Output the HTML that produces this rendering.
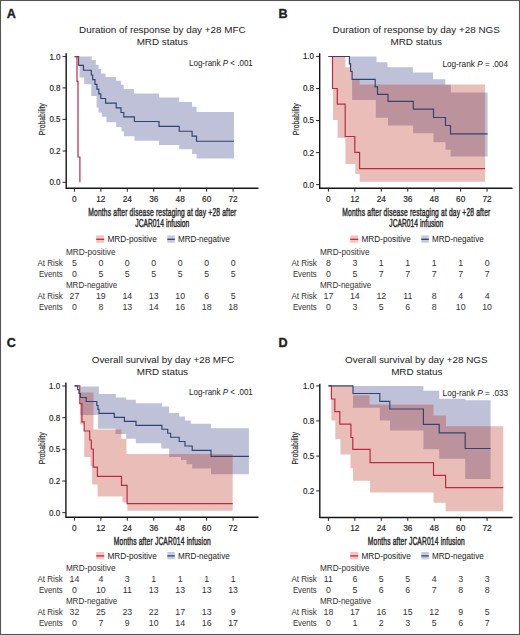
<!DOCTYPE html><html><head><meta charset="utf-8"><style>html,body{margin:0;padding:0;background:#fff;width:520px;height:635px;overflow:hidden}</style></head><body><svg width="520" height="635" viewBox="0 0 520 635" style="display:block;font-family:'Liberation Sans', sans-serif">
<rect x="0" y="0" width="520" height="635" fill="#fff"/>
<text x="6.8" y="18" font-size="12.6" font-weight="bold" fill="#222" stroke="#222" stroke-width="0.35">A</text>
<text x="162.3" y="32.7" font-size="9.9" text-anchor="middle" textLength="166.5" lengthAdjust="spacing" fill="#222">Duration of response by day +28 MFC</text>
<text x="162.3" y="45.1" font-size="9.9" text-anchor="middle" textLength="51.3" lengthAdjust="spacing" fill="#222">MRD status</text>
<path d="M79.5 56.6H91.7V60.1H95.8V64.7H98.6V69H101.2V73.4H105.6V77H116.1V80.8H121V84.8H123.8V89H133.9V93.4H159V97.4H179.2V102H192.1V106.8H196.6V112H234V158.4H196.6V154H192.1V149.2H179.2V144.9H159V140.7H134.5V136.3H123.8V131.5H121.5V127H116.2V122.2H106.5V116.7H101.8V112.4H98.5V107.5H96.6V96H91.3V84.2H84.2V77.5H79.5V56.6Z" fill="rgb(190,193,215)"/>
<path d="M74.6 56.6H78.7V65.4H83.5V70.2H91.3V75H92.7V79.6H95V84.4H96.9V89.1H98.8V93.8H100.8V98.5H105.6V103.1H116.2V107.8H121V112.5H123.8V116.8H134.4V121.5H159V126.3H179.2V131.2H192.1V136.1H196.5V141.2H234" fill="none" stroke="#30446f" stroke-width="1.15"/>
<path d="M74.8 56.6H77V81.4H78V157H79.9V182.3H79.9" fill="none" stroke="#bf2843" stroke-width="1.2"/>
<path d="M66.2 53.2V188.3H258.5" fill="none" stroke="#151515" stroke-width="1.4"/>
<path d="M62.6 56.6H66.2" stroke="#222" stroke-width="1"/>
<text x="60.6" y="59.55" font-size="8.3" text-anchor="end" textLength="11.2" lengthAdjust="spacingAndGlyphs" fill="#222" stroke="#222" stroke-width="0.15">1.0</text>
<path d="M62.6 87.9H66.2" stroke="#222" stroke-width="1"/>
<text x="60.6" y="90.85" font-size="8.3" text-anchor="end" textLength="11.2" lengthAdjust="spacingAndGlyphs" fill="#222" stroke="#222" stroke-width="0.15">0.8</text>
<path d="M62.6 119.4H66.2" stroke="#222" stroke-width="1"/>
<text x="60.6" y="122.35" font-size="8.3" text-anchor="end" textLength="11.2" lengthAdjust="spacingAndGlyphs" fill="#222" stroke="#222" stroke-width="0.15">0.5</text>
<path d="M62.6 151H66.2" stroke="#222" stroke-width="1"/>
<text x="60.6" y="153.95" font-size="8.3" text-anchor="end" textLength="11.2" lengthAdjust="spacingAndGlyphs" fill="#222" stroke="#222" stroke-width="0.15">0.2</text>
<path d="M62.6 182.3H66.2" stroke="#222" stroke-width="1"/>
<text x="60.6" y="185.25" font-size="8.3" text-anchor="end" textLength="11.2" lengthAdjust="spacingAndGlyphs" fill="#222" stroke="#222" stroke-width="0.15">0.0</text>
<path d="M74.4 188.3V191.7" stroke="#222" stroke-width="1"/>
<text x="74.4" y="202.4" font-size="8.3" text-anchor="middle" fill="#222" stroke="#222" stroke-width="0.15">0</text>
<path d="M100.85 188.3V191.7" stroke="#222" stroke-width="1"/>
<text x="100.85" y="202.4" font-size="8.3" text-anchor="middle" fill="#222" stroke="#222" stroke-width="0.15">12</text>
<path d="M127.3 188.3V191.7" stroke="#222" stroke-width="1"/>
<text x="127.3" y="202.4" font-size="8.3" text-anchor="middle" fill="#222" stroke="#222" stroke-width="0.15">24</text>
<path d="M153.75 188.3V191.7" stroke="#222" stroke-width="1"/>
<text x="153.75" y="202.4" font-size="8.3" text-anchor="middle" fill="#222" stroke="#222" stroke-width="0.15">36</text>
<path d="M180.2 188.3V191.7" stroke="#222" stroke-width="1"/>
<text x="180.2" y="202.4" font-size="8.3" text-anchor="middle" fill="#222" stroke="#222" stroke-width="0.15">48</text>
<path d="M206.65 188.3V191.7" stroke="#222" stroke-width="1"/>
<text x="206.65" y="202.4" font-size="8.3" text-anchor="middle" fill="#222" stroke="#222" stroke-width="0.15">60</text>
<path d="M233.1 188.3V191.7" stroke="#222" stroke-width="1"/>
<text x="233.1" y="202.4" font-size="8.3" text-anchor="middle" fill="#222" stroke="#222" stroke-width="0.15">72</text>
<text x="45.2" y="119.2" font-size="9.6" text-anchor="middle" textLength="32" lengthAdjust="spacingAndGlyphs" fill="#2a2a2a" transform="rotate(-90 45.2 119.2)" stroke="#2a2a2a" stroke-width="0.2">Probability</text>
<text x="189" y="66.3" font-size="9.2" textLength="63.8" lengthAdjust="spacingAndGlyphs" fill="#222">Log-rank <tspan font-style="italic">P</tspan> &lt; .001</text>
<text x="261.77" y="216" font-size="10.8" text-anchor="middle" textLength="238.71" lengthAdjust="spacing" fill="#2a2a2a" stroke="#2a2a2a" stroke-width="0.45" transform="scale(0.62,1)">Months after disease restaging at day +28 after</text>
<text x="261.77" y="226.6" font-size="10.8" text-anchor="middle" textLength="87.1" lengthAdjust="spacing" fill="#2a2a2a" stroke="#2a2a2a" stroke-width="0.45" transform="scale(0.62,1)">JCAR014 infusion</text>
<rect x="96.2" y="235.4" width="8" height="7.3" fill="#f4c4bd"/>
<path d="M96.2 239.3H104.2" stroke="#bf2843" stroke-width="1.3"/>
<text x="107.4" y="241.9" font-size="8.5" textLength="49.4" lengthAdjust="spacingAndGlyphs" fill="#222">MRD-positive</text>
<rect x="167.3" y="235.4" width="7.5" height="7.3" fill="#c6c8e2"/>
<path d="M167.3 239.3H174.8" stroke="#30446f" stroke-width="1.3"/>
<text x="178" y="241.9" font-size="8.5" textLength="51.7" lengthAdjust="spacingAndGlyphs" fill="#222">MRD-negative</text>
<text x="65.9" y="254.7" font-size="8.8" textLength="49.6" lengthAdjust="spacingAndGlyphs" fill="#333">MRD-positive</text>
<text x="62.8" y="265.6" font-size="8.8" text-anchor="end" textLength="25.4" lengthAdjust="spacingAndGlyphs" fill="#333">At Risk</text>
<text x="62.8" y="276.5" font-size="8.8" text-anchor="end" textLength="23.9" lengthAdjust="spacingAndGlyphs" fill="#333">Events</text>
<text x="65.9" y="287.5" font-size="8.8" textLength="51.4" lengthAdjust="spacingAndGlyphs" fill="#333">MRD-negative</text>
<text x="62.8" y="298.5" font-size="8.8" text-anchor="end" textLength="25.4" lengthAdjust="spacingAndGlyphs" fill="#333">At Risk</text>
<text x="62.8" y="309.5" font-size="8.8" text-anchor="end" textLength="23.9" lengthAdjust="spacingAndGlyphs" fill="#333">Events</text>
<text x="74.4" y="265.6" font-size="8.8" text-anchor="middle" fill="#333">5</text>
<text x="100.85" y="265.6" font-size="8.8" text-anchor="middle" fill="#333">0</text>
<text x="127.3" y="265.6" font-size="8.8" text-anchor="middle" fill="#333">0</text>
<text x="153.75" y="265.6" font-size="8.8" text-anchor="middle" fill="#333">0</text>
<text x="180.2" y="265.6" font-size="8.8" text-anchor="middle" fill="#333">0</text>
<text x="206.65" y="265.6" font-size="8.8" text-anchor="middle" fill="#333">0</text>
<text x="233.1" y="265.6" font-size="8.8" text-anchor="middle" fill="#333">0</text>
<text x="74.4" y="276.5" font-size="8.8" text-anchor="middle" fill="#333">0</text>
<text x="100.85" y="276.5" font-size="8.8" text-anchor="middle" fill="#333">5</text>
<text x="127.3" y="276.5" font-size="8.8" text-anchor="middle" fill="#333">5</text>
<text x="153.75" y="276.5" font-size="8.8" text-anchor="middle" fill="#333">5</text>
<text x="180.2" y="276.5" font-size="8.8" text-anchor="middle" fill="#333">5</text>
<text x="206.65" y="276.5" font-size="8.8" text-anchor="middle" fill="#333">5</text>
<text x="233.1" y="276.5" font-size="8.8" text-anchor="middle" fill="#333">5</text>
<text x="74.4" y="298.5" font-size="8.8" text-anchor="middle" fill="#333">27</text>
<text x="100.85" y="298.5" font-size="8.8" text-anchor="middle" fill="#333">19</text>
<text x="127.3" y="298.5" font-size="8.8" text-anchor="middle" fill="#333">14</text>
<text x="153.75" y="298.5" font-size="8.8" text-anchor="middle" fill="#333">13</text>
<text x="180.2" y="298.5" font-size="8.8" text-anchor="middle" fill="#333">10</text>
<text x="206.65" y="298.5" font-size="8.8" text-anchor="middle" fill="#333">6</text>
<text x="233.1" y="298.5" font-size="8.8" text-anchor="middle" fill="#333">5</text>
<text x="74.4" y="309.5" font-size="8.8" text-anchor="middle" fill="#333">0</text>
<text x="100.85" y="309.5" font-size="8.8" text-anchor="middle" fill="#333">8</text>
<text x="127.3" y="309.5" font-size="8.8" text-anchor="middle" fill="#333">13</text>
<text x="153.75" y="309.5" font-size="8.8" text-anchor="middle" fill="#333">14</text>
<text x="180.2" y="309.5" font-size="8.8" text-anchor="middle" fill="#333">16</text>
<text x="206.65" y="309.5" font-size="8.8" text-anchor="middle" fill="#333">18</text>
<text x="233.1" y="309.5" font-size="8.8" text-anchor="middle" fill="#333">18</text>
<text x="278.4" y="17.8" font-size="12.6" font-weight="bold" fill="#222" stroke="#222" stroke-width="0.35">B</text>
<text x="416.2" y="32.7" font-size="9.9" text-anchor="middle" textLength="167.4" lengthAdjust="spacing" fill="#222">Duration of response by day +28 NGS</text>
<text x="416.2" y="45.1" font-size="9.9" text-anchor="middle" textLength="51.3" lengthAdjust="spacing" fill="#222">MRD status</text>
<path d="M349.5 56.6H376.5V62.3H387.5V67.2H412.9V72.5H433.1V79.3H445.3V84.8H450.8V92.5H487.6V156.6H450.6V149.8H445.5V142.2H433.5V133.3H413.2V125.4H388V117.7H375.8V100.1H352.1V67.3H349.5V56.6Z" fill="rgb(190,193,215)"/>
<path d="M333 56.8H345.4V67.2H352.1V79.4H359.6V84.6H485V181.8H359.7V174H355.3V164.1H345.4V137.7H337.6V120H333V56.8Z" fill="rgba(185,40,20,0.3)"/>
<path d="M328.5 56.5H332.5V88.5H337.3V104.2H345.2V136.5H354.8V152.3H359.6V168.6H485" fill="none" stroke="#bf2843" stroke-width="1.2"/>
<path d="M328.5 56.5H349.4V63.8H350.6V71.4H352.1V79.3H375.2V86.9H377.5V94.3H388V101.4H413.3V109.1H433.5V117.5H445.5V125.5H450.5V133.8H487.6" fill="none" stroke="#30446f" stroke-width="1.15"/>
<path d="M319.7 53.3V188.2H512.5" fill="none" stroke="#151515" stroke-width="1.4"/>
<path d="M316.1 56.4H319.7" stroke="#222" stroke-width="1"/>
<text x="314.1" y="59.35" font-size="8.3" text-anchor="end" textLength="11.2" lengthAdjust="spacingAndGlyphs" fill="#222" stroke="#222" stroke-width="0.15">1.0</text>
<path d="M316.1 88.5H319.7" stroke="#222" stroke-width="1"/>
<text x="314.1" y="91.45" font-size="8.3" text-anchor="end" textLength="11.2" lengthAdjust="spacingAndGlyphs" fill="#222" stroke="#222" stroke-width="0.15">0.8</text>
<path d="M316.1 120.5H319.7" stroke="#222" stroke-width="1"/>
<text x="314.1" y="123.45" font-size="8.3" text-anchor="end" textLength="11.2" lengthAdjust="spacingAndGlyphs" fill="#222" stroke="#222" stroke-width="0.15">0.5</text>
<path d="M316.1 152.6H319.7" stroke="#222" stroke-width="1"/>
<text x="314.1" y="155.55" font-size="8.3" text-anchor="end" textLength="11.2" lengthAdjust="spacingAndGlyphs" fill="#222" stroke="#222" stroke-width="0.15">0.2</text>
<path d="M316.1 184.6H319.7" stroke="#222" stroke-width="1"/>
<text x="314.1" y="187.55" font-size="8.3" text-anchor="end" textLength="11.2" lengthAdjust="spacingAndGlyphs" fill="#222" stroke="#222" stroke-width="0.15">0.0</text>
<path d="M328.4 188.2V191.6" stroke="#222" stroke-width="1"/>
<text x="328.4" y="202.4" font-size="8.3" text-anchor="middle" fill="#222" stroke="#222" stroke-width="0.15">0</text>
<path d="M354.85 188.2V191.6" stroke="#222" stroke-width="1"/>
<text x="354.85" y="202.4" font-size="8.3" text-anchor="middle" fill="#222" stroke="#222" stroke-width="0.15">12</text>
<path d="M381.3 188.2V191.6" stroke="#222" stroke-width="1"/>
<text x="381.3" y="202.4" font-size="8.3" text-anchor="middle" fill="#222" stroke="#222" stroke-width="0.15">24</text>
<path d="M407.75 188.2V191.6" stroke="#222" stroke-width="1"/>
<text x="407.75" y="202.4" font-size="8.3" text-anchor="middle" fill="#222" stroke="#222" stroke-width="0.15">36</text>
<path d="M434.2 188.2V191.6" stroke="#222" stroke-width="1"/>
<text x="434.2" y="202.4" font-size="8.3" text-anchor="middle" fill="#222" stroke="#222" stroke-width="0.15">48</text>
<path d="M460.65 188.2V191.6" stroke="#222" stroke-width="1"/>
<text x="460.65" y="202.4" font-size="8.3" text-anchor="middle" fill="#222" stroke="#222" stroke-width="0.15">60</text>
<path d="M487.1 188.2V191.6" stroke="#222" stroke-width="1"/>
<text x="487.1" y="202.4" font-size="8.3" text-anchor="middle" fill="#222" stroke="#222" stroke-width="0.15">72</text>
<text x="299.2" y="119.2" font-size="9.6" text-anchor="middle" textLength="32" lengthAdjust="spacingAndGlyphs" fill="#2a2a2a" transform="rotate(-90 299.2 119.2)" stroke="#2a2a2a" stroke-width="0.2">Probability</text>
<text x="442.4" y="66.6" font-size="9.2" textLength="65.6" lengthAdjust="spacingAndGlyphs" fill="#222">Log-rank <tspan font-style="italic">P</tspan> = .004</text>
<text x="671.45" y="216" font-size="10.8" text-anchor="middle" textLength="238.71" lengthAdjust="spacing" fill="#2a2a2a" stroke="#2a2a2a" stroke-width="0.45" transform="scale(0.62,1)">Months after disease restaging at day +28 after</text>
<text x="671.45" y="226.6" font-size="10.8" text-anchor="middle" textLength="87.1" lengthAdjust="spacing" fill="#2a2a2a" stroke="#2a2a2a" stroke-width="0.45" transform="scale(0.62,1)">JCAR014 infusion</text>
<rect x="350.2" y="235.4" width="8" height="7.3" fill="#f4c4bd"/>
<path d="M350.2 239.3H358.2" stroke="#bf2843" stroke-width="1.3"/>
<text x="361.4" y="241.9" font-size="8.5" textLength="49.4" lengthAdjust="spacingAndGlyphs" fill="#222">MRD-positive</text>
<rect x="421.3" y="235.4" width="7.5" height="7.3" fill="#c6c8e2"/>
<path d="M421.3 239.3H428.8" stroke="#30446f" stroke-width="1.3"/>
<text x="432" y="241.9" font-size="8.5" textLength="51.7" lengthAdjust="spacingAndGlyphs" fill="#222">MRD-negative</text>
<text x="319.9" y="254.7" font-size="8.8" textLength="49.6" lengthAdjust="spacingAndGlyphs" fill="#333">MRD-positive</text>
<text x="316.8" y="265.6" font-size="8.8" text-anchor="end" textLength="25.4" lengthAdjust="spacingAndGlyphs" fill="#333">At Risk</text>
<text x="316.8" y="276.5" font-size="8.8" text-anchor="end" textLength="23.9" lengthAdjust="spacingAndGlyphs" fill="#333">Events</text>
<text x="319.9" y="287.5" font-size="8.8" textLength="51.4" lengthAdjust="spacingAndGlyphs" fill="#333">MRD-negative</text>
<text x="316.8" y="298.5" font-size="8.8" text-anchor="end" textLength="25.4" lengthAdjust="spacingAndGlyphs" fill="#333">At Risk</text>
<text x="316.8" y="309.5" font-size="8.8" text-anchor="end" textLength="23.9" lengthAdjust="spacingAndGlyphs" fill="#333">Events</text>
<text x="328.4" y="265.6" font-size="8.8" text-anchor="middle" fill="#333">8</text>
<text x="354.85" y="265.6" font-size="8.8" text-anchor="middle" fill="#333">3</text>
<text x="381.3" y="265.6" font-size="8.8" text-anchor="middle" fill="#333">1</text>
<text x="407.75" y="265.6" font-size="8.8" text-anchor="middle" fill="#333">1</text>
<text x="434.2" y="265.6" font-size="8.8" text-anchor="middle" fill="#333">1</text>
<text x="460.65" y="265.6" font-size="8.8" text-anchor="middle" fill="#333">1</text>
<text x="487.1" y="265.6" font-size="8.8" text-anchor="middle" fill="#333">0</text>
<text x="328.4" y="276.5" font-size="8.8" text-anchor="middle" fill="#333">0</text>
<text x="354.85" y="276.5" font-size="8.8" text-anchor="middle" fill="#333">5</text>
<text x="381.3" y="276.5" font-size="8.8" text-anchor="middle" fill="#333">7</text>
<text x="407.75" y="276.5" font-size="8.8" text-anchor="middle" fill="#333">7</text>
<text x="434.2" y="276.5" font-size="8.8" text-anchor="middle" fill="#333">7</text>
<text x="460.65" y="276.5" font-size="8.8" text-anchor="middle" fill="#333">7</text>
<text x="487.1" y="276.5" font-size="8.8" text-anchor="middle" fill="#333">7</text>
<text x="328.4" y="298.5" font-size="8.8" text-anchor="middle" fill="#333">17</text>
<text x="354.85" y="298.5" font-size="8.8" text-anchor="middle" fill="#333">14</text>
<text x="381.3" y="298.5" font-size="8.8" text-anchor="middle" fill="#333">12</text>
<text x="407.75" y="298.5" font-size="8.8" text-anchor="middle" fill="#333">11</text>
<text x="434.2" y="298.5" font-size="8.8" text-anchor="middle" fill="#333">8</text>
<text x="460.65" y="298.5" font-size="8.8" text-anchor="middle" fill="#333">4</text>
<text x="487.1" y="298.5" font-size="8.8" text-anchor="middle" fill="#333">4</text>
<text x="328.4" y="309.5" font-size="8.8" text-anchor="middle" fill="#333">0</text>
<text x="354.85" y="309.5" font-size="8.8" text-anchor="middle" fill="#333">3</text>
<text x="381.3" y="309.5" font-size="8.8" text-anchor="middle" fill="#333">5</text>
<text x="407.75" y="309.5" font-size="8.8" text-anchor="middle" fill="#333">6</text>
<text x="434.2" y="309.5" font-size="8.8" text-anchor="middle" fill="#333">8</text>
<text x="460.65" y="309.5" font-size="8.8" text-anchor="middle" fill="#333">10</text>
<text x="487.1" y="309.5" font-size="8.8" text-anchor="middle" fill="#333">10</text>
<text x="6.8" y="347.2" font-size="12.6" font-weight="bold" fill="#222" stroke="#222" stroke-width="0.35">C</text>
<text x="163" y="362.8" font-size="9.9" text-anchor="middle" textLength="142.4" lengthAdjust="spacing" fill="#222">Overall survival by day +28 MFC</text>
<text x="162.4" y="374.8" font-size="9.9" text-anchor="middle" textLength="51.3" lengthAdjust="spacing" fill="#222">MRD status</text>
<path d="M80.4 386.5H98.8V394H115.8V397.5H126.2V399.8H135.8V403.2H161.9V406.5H169.1V412.9H179.2V416.6H185V420.4H190.8V423.8H211V428.2H248.9V474.3H211V468.6H192.2V464.2H186.5V459.9H181V457H169.1V448.5H161.3V443.3H135.8V438.8H126.2V434H115.5V428.8H98.1V414.9H80.4V386.5Z" fill="rgb(190,193,215)"/>
<path d="M80.5 392.6H93.5V429.6H121.4V438.8H126.5V454.1H232.7V510.8H127.3V502.6H122.6V496.5H97.6V484.5H92.1V466H90.5V457H84.2V424.4H80.2V392.6Z" fill="rgba(185,40,20,0.3)"/>
<path d="M74.6 385.8H79.8V403.7H81.9V421.9H84.2V431H89.7V440H91.3V449H93.3V467.2H97.4V476.4H121.5V485.3H127.1V503.7H232.7" fill="none" stroke="#bf2843" stroke-width="1.2"/>
<path d="M74.6 385.8H77.7V389.6H79V393.5H80.5V397.5H86.2V401.5H96.8V405.5H98V409.4H99V413.4H114.3V417.4H124.4V421.3H136V425.3H161.9V429.2H167.7V433.2H170.6V437.2H179.2V441.5H185V446H192.2V450.4H211V456.3H248.9" fill="none" stroke="#30446f" stroke-width="1.15"/>
<path d="M65.9 382.5V517.3H258.5" fill="none" stroke="#151515" stroke-width="1.4"/>
<path d="M62.3 386H65.9" stroke="#222" stroke-width="1"/>
<text x="60.3" y="388.95" font-size="8.3" text-anchor="end" textLength="11.2" lengthAdjust="spacingAndGlyphs" fill="#222" stroke="#222" stroke-width="0.15">1.0</text>
<path d="M62.3 417.7H65.9" stroke="#222" stroke-width="1"/>
<text x="60.3" y="420.65" font-size="8.3" text-anchor="end" textLength="11.2" lengthAdjust="spacingAndGlyphs" fill="#222" stroke="#222" stroke-width="0.15">0.8</text>
<path d="M62.3 449.3H65.9" stroke="#222" stroke-width="1"/>
<text x="60.3" y="452.25" font-size="8.3" text-anchor="end" textLength="11.2" lengthAdjust="spacingAndGlyphs" fill="#222" stroke="#222" stroke-width="0.15">0.5</text>
<path d="M62.3 481H65.9" stroke="#222" stroke-width="1"/>
<text x="60.3" y="483.95" font-size="8.3" text-anchor="end" textLength="11.2" lengthAdjust="spacingAndGlyphs" fill="#222" stroke="#222" stroke-width="0.15">0.2</text>
<path d="M62.3 512.7H65.9" stroke="#222" stroke-width="1"/>
<text x="60.3" y="515.65" font-size="8.3" text-anchor="end" textLength="11.2" lengthAdjust="spacingAndGlyphs" fill="#222" stroke="#222" stroke-width="0.15">0.0</text>
<path d="M74.4 517.3V520.7" stroke="#222" stroke-width="1"/>
<text x="74.4" y="531.2" font-size="8.3" text-anchor="middle" fill="#222" stroke="#222" stroke-width="0.15">0</text>
<path d="M100.85 517.3V520.7" stroke="#222" stroke-width="1"/>
<text x="100.85" y="531.2" font-size="8.3" text-anchor="middle" fill="#222" stroke="#222" stroke-width="0.15">12</text>
<path d="M127.3 517.3V520.7" stroke="#222" stroke-width="1"/>
<text x="127.3" y="531.2" font-size="8.3" text-anchor="middle" fill="#222" stroke="#222" stroke-width="0.15">24</text>
<path d="M153.75 517.3V520.7" stroke="#222" stroke-width="1"/>
<text x="153.75" y="531.2" font-size="8.3" text-anchor="middle" fill="#222" stroke="#222" stroke-width="0.15">36</text>
<path d="M180.2 517.3V520.7" stroke="#222" stroke-width="1"/>
<text x="180.2" y="531.2" font-size="8.3" text-anchor="middle" fill="#222" stroke="#222" stroke-width="0.15">48</text>
<path d="M206.65 517.3V520.7" stroke="#222" stroke-width="1"/>
<text x="206.65" y="531.2" font-size="8.3" text-anchor="middle" fill="#222" stroke="#222" stroke-width="0.15">60</text>
<path d="M233.1 517.3V520.7" stroke="#222" stroke-width="1"/>
<text x="233.1" y="531.2" font-size="8.3" text-anchor="middle" fill="#222" stroke="#222" stroke-width="0.15">72</text>
<text x="44.9" y="448.3" font-size="9.6" text-anchor="middle" textLength="32" lengthAdjust="spacingAndGlyphs" fill="#2a2a2a" transform="rotate(-90 44.9 448.3)" stroke="#2a2a2a" stroke-width="0.2">Probability</text>
<text x="189" y="395.3" font-size="9.2" textLength="63.8" lengthAdjust="spacingAndGlyphs" fill="#222">Log-rank <tspan font-style="italic">P</tspan> &lt; .001</text>
<text x="261.77" y="545.2" font-size="10.8" text-anchor="middle" textLength="156.45" lengthAdjust="spacing" fill="#2a2a2a" stroke="#2a2a2a" stroke-width="0.45" transform="scale(0.62,1)">Months after JCAR014 infusion</text>
<rect x="96.2" y="552" width="8" height="7.3" fill="#f4c4bd"/>
<path d="M96.2 555.9H104.2" stroke="#bf2843" stroke-width="1.3"/>
<text x="107.4" y="558.5" font-size="8.5" textLength="49.4" lengthAdjust="spacingAndGlyphs" fill="#222">MRD-positive</text>
<rect x="167.3" y="552" width="7.5" height="7.3" fill="#c6c8e2"/>
<path d="M167.3 555.9H174.8" stroke="#30446f" stroke-width="1.3"/>
<text x="178" y="558.5" font-size="8.5" textLength="51.7" lengthAdjust="spacingAndGlyphs" fill="#222">MRD-negative</text>
<text x="65.9" y="571.2" font-size="8.8" textLength="49.6" lengthAdjust="spacingAndGlyphs" fill="#333">MRD-positive</text>
<text x="62.8" y="582.1" font-size="8.8" text-anchor="end" textLength="25.4" lengthAdjust="spacingAndGlyphs" fill="#333">At Risk</text>
<text x="62.8" y="593" font-size="8.8" text-anchor="end" textLength="23.9" lengthAdjust="spacingAndGlyphs" fill="#333">Events</text>
<text x="65.9" y="604" font-size="8.8" textLength="51.4" lengthAdjust="spacingAndGlyphs" fill="#333">MRD-negative</text>
<text x="62.8" y="615" font-size="8.8" text-anchor="end" textLength="25.4" lengthAdjust="spacingAndGlyphs" fill="#333">At Risk</text>
<text x="62.8" y="626" font-size="8.8" text-anchor="end" textLength="23.9" lengthAdjust="spacingAndGlyphs" fill="#333">Events</text>
<text x="74.4" y="582.1" font-size="8.8" text-anchor="middle" fill="#333">14</text>
<text x="100.85" y="582.1" font-size="8.8" text-anchor="middle" fill="#333">4</text>
<text x="127.3" y="582.1" font-size="8.8" text-anchor="middle" fill="#333">3</text>
<text x="153.75" y="582.1" font-size="8.8" text-anchor="middle" fill="#333">1</text>
<text x="180.2" y="582.1" font-size="8.8" text-anchor="middle" fill="#333">1</text>
<text x="206.65" y="582.1" font-size="8.8" text-anchor="middle" fill="#333">1</text>
<text x="233.1" y="582.1" font-size="8.8" text-anchor="middle" fill="#333">1</text>
<text x="74.4" y="593" font-size="8.8" text-anchor="middle" fill="#333">0</text>
<text x="100.85" y="593" font-size="8.8" text-anchor="middle" fill="#333">10</text>
<text x="127.3" y="593" font-size="8.8" text-anchor="middle" fill="#333">11</text>
<text x="153.75" y="593" font-size="8.8" text-anchor="middle" fill="#333">13</text>
<text x="180.2" y="593" font-size="8.8" text-anchor="middle" fill="#333">13</text>
<text x="206.65" y="593" font-size="8.8" text-anchor="middle" fill="#333">13</text>
<text x="233.1" y="593" font-size="8.8" text-anchor="middle" fill="#333">13</text>
<text x="74.4" y="615" font-size="8.8" text-anchor="middle" fill="#333">32</text>
<text x="100.85" y="615" font-size="8.8" text-anchor="middle" fill="#333">25</text>
<text x="127.3" y="615" font-size="8.8" text-anchor="middle" fill="#333">23</text>
<text x="153.75" y="615" font-size="8.8" text-anchor="middle" fill="#333">22</text>
<text x="180.2" y="615" font-size="8.8" text-anchor="middle" fill="#333">17</text>
<text x="206.65" y="615" font-size="8.8" text-anchor="middle" fill="#333">13</text>
<text x="233.1" y="615" font-size="8.8" text-anchor="middle" fill="#333">9</text>
<text x="74.4" y="626" font-size="8.8" text-anchor="middle" fill="#333">0</text>
<text x="100.85" y="626" font-size="8.8" text-anchor="middle" fill="#333">7</text>
<text x="127.3" y="626" font-size="8.8" text-anchor="middle" fill="#333">9</text>
<text x="153.75" y="626" font-size="8.8" text-anchor="middle" fill="#333">10</text>
<text x="180.2" y="626" font-size="8.8" text-anchor="middle" fill="#333">14</text>
<text x="206.65" y="626" font-size="8.8" text-anchor="middle" fill="#333">16</text>
<text x="233.1" y="626" font-size="8.8" text-anchor="middle" fill="#333">17</text>
<text x="278.4" y="347.4" font-size="12.6" font-weight="bold" fill="#222" stroke="#222" stroke-width="0.35">D</text>
<text x="416.3" y="362.7" font-size="9.9" text-anchor="middle" textLength="142.5" lengthAdjust="spacing" fill="#222">Overall survival by day +28 NGS</text>
<text x="416.8" y="374.8" font-size="9.9" text-anchor="middle" textLength="51.3" lengthAdjust="spacing" fill="#222">MRD status</text>
<path d="M353 385.9H423.4V390.8H439.2V398.8H465.2V400.3H490.6V479H465.2V458.8H439.2V449.3H423.4V430.5H390V420.4H379.8V407.8H353V385.9Z" fill="rgb(190,193,215)"/>
<path d="M330.8 385.9H353V395.2H369.5V404.5H433.5V415.6H446V426.2H503.3V511.3H445.6V502.7H433.5V492.4H370.1V480.8H353V468.2H350.5V454.4H340.4V439.3H335.3V420.4H331.3V385.9Z" fill="rgba(185,40,20,0.3)"/>
<path d="M328.5 385.9H331.4V399H334.8V411.6H339.8V424.2H350.9V437.5H352.8V449.3H370.1V462.7H433.5V475.3H445.6V487.7H503.3" fill="none" stroke="#bf2843" stroke-width="1.2"/>
<path d="M328.5 385.9H353V393.5H379.8V401.3H389.8V409H423.4V424.3H439.2V432.9H465.2V448.5H490.6" fill="none" stroke="#30446f" stroke-width="1.15"/>
<path d="M319.8 383.8V517.5H512.5" fill="none" stroke="#151515" stroke-width="1.4"/>
<path d="M316.2 385.9H319.8" stroke="#222" stroke-width="1"/>
<text x="314.2" y="388.85" font-size="8.3" text-anchor="end" textLength="11.2" lengthAdjust="spacingAndGlyphs" fill="#222" stroke="#222" stroke-width="0.15">1.0</text>
<path d="M316.2 420.9H319.8" stroke="#222" stroke-width="1"/>
<text x="314.2" y="423.85" font-size="8.3" text-anchor="end" textLength="11.2" lengthAdjust="spacingAndGlyphs" fill="#222" stroke="#222" stroke-width="0.15">0.8</text>
<path d="M316.2 456.1H319.8" stroke="#222" stroke-width="1"/>
<text x="314.2" y="459.05" font-size="8.3" text-anchor="end" textLength="11.2" lengthAdjust="spacingAndGlyphs" fill="#222" stroke="#222" stroke-width="0.15">0.5</text>
<path d="M316.2 490.9H319.8" stroke="#222" stroke-width="1"/>
<text x="314.2" y="493.85" font-size="8.3" text-anchor="end" textLength="11.2" lengthAdjust="spacingAndGlyphs" fill="#222" stroke="#222" stroke-width="0.15">0.2</text>
<path d="M328.4 517.5V520.9" stroke="#222" stroke-width="1"/>
<text x="328.4" y="531.2" font-size="8.3" text-anchor="middle" fill="#222" stroke="#222" stroke-width="0.15">0</text>
<path d="M354.85 517.5V520.9" stroke="#222" stroke-width="1"/>
<text x="354.85" y="531.2" font-size="8.3" text-anchor="middle" fill="#222" stroke="#222" stroke-width="0.15">12</text>
<path d="M381.3 517.5V520.9" stroke="#222" stroke-width="1"/>
<text x="381.3" y="531.2" font-size="8.3" text-anchor="middle" fill="#222" stroke="#222" stroke-width="0.15">24</text>
<path d="M407.75 517.5V520.9" stroke="#222" stroke-width="1"/>
<text x="407.75" y="531.2" font-size="8.3" text-anchor="middle" fill="#222" stroke="#222" stroke-width="0.15">36</text>
<path d="M434.2 517.5V520.9" stroke="#222" stroke-width="1"/>
<text x="434.2" y="531.2" font-size="8.3" text-anchor="middle" fill="#222" stroke="#222" stroke-width="0.15">48</text>
<path d="M460.65 517.5V520.9" stroke="#222" stroke-width="1"/>
<text x="460.65" y="531.2" font-size="8.3" text-anchor="middle" fill="#222" stroke="#222" stroke-width="0.15">60</text>
<path d="M487.1 517.5V520.9" stroke="#222" stroke-width="1"/>
<text x="487.1" y="531.2" font-size="8.3" text-anchor="middle" fill="#222" stroke="#222" stroke-width="0.15">72</text>
<text x="298.5" y="448.3" font-size="9.6" text-anchor="middle" textLength="32.5" lengthAdjust="spacingAndGlyphs" fill="#2a2a2a" transform="rotate(-90 298.5 448.3)" stroke="#2a2a2a" stroke-width="0.2">Probability</text>
<text x="442.6" y="395.5" font-size="9.2" textLength="65.6" lengthAdjust="spacingAndGlyphs" fill="#222">Log-rank <tspan font-style="italic">P</tspan> = .033</text>
<text x="671.45" y="545.2" font-size="10.8" text-anchor="middle" textLength="156.45" lengthAdjust="spacing" fill="#2a2a2a" stroke="#2a2a2a" stroke-width="0.45" transform="scale(0.62,1)">Months after JCAR014 infusion</text>
<rect x="350.2" y="552" width="8" height="7.3" fill="#f4c4bd"/>
<path d="M350.2 555.9H358.2" stroke="#bf2843" stroke-width="1.3"/>
<text x="361.4" y="558.5" font-size="8.5" textLength="49.4" lengthAdjust="spacingAndGlyphs" fill="#222">MRD-positive</text>
<rect x="421.3" y="552" width="7.5" height="7.3" fill="#c6c8e2"/>
<path d="M421.3 555.9H428.8" stroke="#30446f" stroke-width="1.3"/>
<text x="432" y="558.5" font-size="8.5" textLength="51.7" lengthAdjust="spacingAndGlyphs" fill="#222">MRD-negative</text>
<text x="319.9" y="571.2" font-size="8.8" textLength="49.6" lengthAdjust="spacingAndGlyphs" fill="#333">MRD-positive</text>
<text x="316.8" y="582.1" font-size="8.8" text-anchor="end" textLength="25.4" lengthAdjust="spacingAndGlyphs" fill="#333">At Risk</text>
<text x="316.8" y="593" font-size="8.8" text-anchor="end" textLength="23.9" lengthAdjust="spacingAndGlyphs" fill="#333">Events</text>
<text x="319.9" y="604" font-size="8.8" textLength="51.4" lengthAdjust="spacingAndGlyphs" fill="#333">MRD-negative</text>
<text x="316.8" y="615" font-size="8.8" text-anchor="end" textLength="25.4" lengthAdjust="spacingAndGlyphs" fill="#333">At Risk</text>
<text x="316.8" y="626" font-size="8.8" text-anchor="end" textLength="23.9" lengthAdjust="spacingAndGlyphs" fill="#333">Events</text>
<text x="328.4" y="582.1" font-size="8.8" text-anchor="middle" fill="#333">11</text>
<text x="354.85" y="582.1" font-size="8.8" text-anchor="middle" fill="#333">6</text>
<text x="381.3" y="582.1" font-size="8.8" text-anchor="middle" fill="#333">5</text>
<text x="407.75" y="582.1" font-size="8.8" text-anchor="middle" fill="#333">5</text>
<text x="434.2" y="582.1" font-size="8.8" text-anchor="middle" fill="#333">4</text>
<text x="460.65" y="582.1" font-size="8.8" text-anchor="middle" fill="#333">3</text>
<text x="487.1" y="582.1" font-size="8.8" text-anchor="middle" fill="#333">3</text>
<text x="328.4" y="593" font-size="8.8" text-anchor="middle" fill="#333">0</text>
<text x="354.85" y="593" font-size="8.8" text-anchor="middle" fill="#333">5</text>
<text x="381.3" y="593" font-size="8.8" text-anchor="middle" fill="#333">6</text>
<text x="407.75" y="593" font-size="8.8" text-anchor="middle" fill="#333">6</text>
<text x="434.2" y="593" font-size="8.8" text-anchor="middle" fill="#333">7</text>
<text x="460.65" y="593" font-size="8.8" text-anchor="middle" fill="#333">8</text>
<text x="487.1" y="593" font-size="8.8" text-anchor="middle" fill="#333">8</text>
<text x="328.4" y="615" font-size="8.8" text-anchor="middle" fill="#333">18</text>
<text x="354.85" y="615" font-size="8.8" text-anchor="middle" fill="#333">17</text>
<text x="381.3" y="615" font-size="8.8" text-anchor="middle" fill="#333">16</text>
<text x="407.75" y="615" font-size="8.8" text-anchor="middle" fill="#333">15</text>
<text x="434.2" y="615" font-size="8.8" text-anchor="middle" fill="#333">12</text>
<text x="460.65" y="615" font-size="8.8" text-anchor="middle" fill="#333">9</text>
<text x="487.1" y="615" font-size="8.8" text-anchor="middle" fill="#333">5</text>
<text x="328.4" y="626" font-size="8.8" text-anchor="middle" fill="#333">0</text>
<text x="354.85" y="626" font-size="8.8" text-anchor="middle" fill="#333">1</text>
<text x="381.3" y="626" font-size="8.8" text-anchor="middle" fill="#333">2</text>
<text x="407.75" y="626" font-size="8.8" text-anchor="middle" fill="#333">3</text>
<text x="434.2" y="626" font-size="8.8" text-anchor="middle" fill="#333">5</text>
<text x="460.65" y="626" font-size="8.8" text-anchor="middle" fill="#333">6</text>
<text x="487.1" y="626" font-size="8.8" text-anchor="middle" fill="#333">7</text>
<rect x="0.5" y="0.5" width="519" height="634" fill="none" stroke="#555" stroke-width="1.1"/>
</svg></body></html>
